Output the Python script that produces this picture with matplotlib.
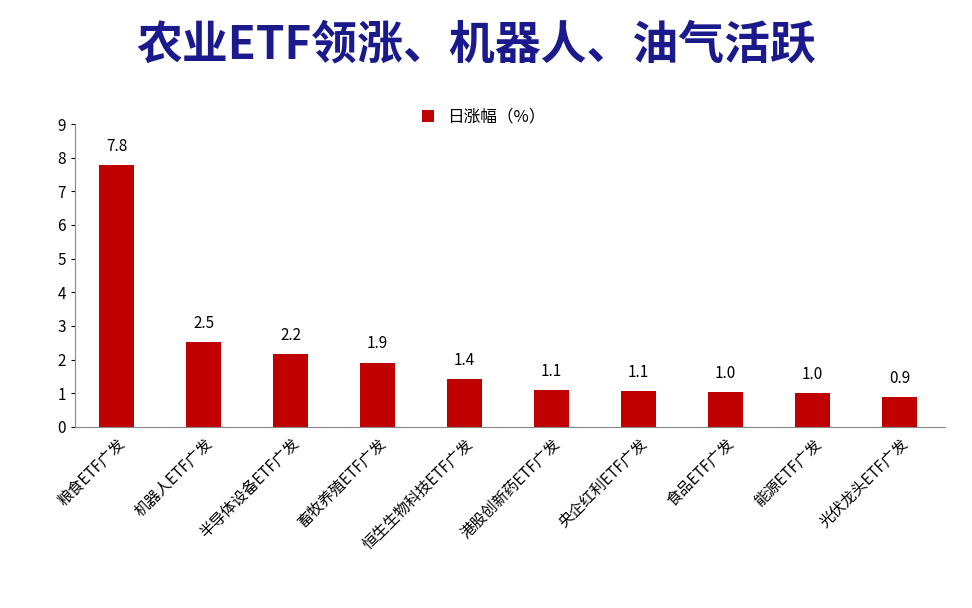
import matplotlib.pyplot as plt
import numpy as np

plt.rcParams['font.family'] = ['Noto Sans CJK SC', 'DejaVu Sans']

# data
categories = ['粮食ETF广发', '机器人ETF广发', '半导体设备ETF广发', '畜牧养殖ETF广发',
              '恒生生物科技ETF广发', '港股创新药ETF广发', '央企红利ETF广发',
              '食品ETF广发', '能源ETF广发', '光伏龙头ETF广发']
values = [7.78, 2.51, 2.17, 1.91, 1.42, 1.1, 1.07, 1.03, 1.0, 0.88]

fig = plt.figure(figsize=(9.72, 6.08), dpi=100)
ax = fig.add_axes([0.077, 0.298, 0.895, 0.498])

x = np.arange(len(categories))
bars = ax.bar(x, values, width=0.4, color='#c00000', label='日涨幅（%）')
for xi, v in zip(x, values):
    ax.text(xi, v + 0.3, f'{v:.1f}', ha='center', va='bottom', fontsize=11)

ax.set_xlim(-0.48, len(categories) - 0.48)
ax.set_ylim(0, 9)
ax.set_yticks(range(10))
ax.set_xticks(x)
ax.set_xticklabels(categories, rotation=45, ha='right', rotation_mode='anchor', fontsize=11)
ax.tick_params(axis='x', length=0, pad=6)
ax.tick_params(axis='y', labelsize=11, direction='out', length=3)
for s in ['top', 'right']:
    ax.spines[s].set_visible(False)
ax.spines['left'].set_color('#888888')
ax.spines['bottom'].set_color('#888888')

ax.legend(loc='upper center', bbox_to_anchor=(0.47, 1.1), frameon=False,
          fontsize=12, handlelength=0.7, handleheight=0.7)

fig.text(0.49, 0.925, '农业ETF领涨、机器人、油气活跃', ha='center', va='center',
         fontsize=33, fontweight='bold', color='#1a1a8c')

fig.savefig('out.png', dpi=100)
